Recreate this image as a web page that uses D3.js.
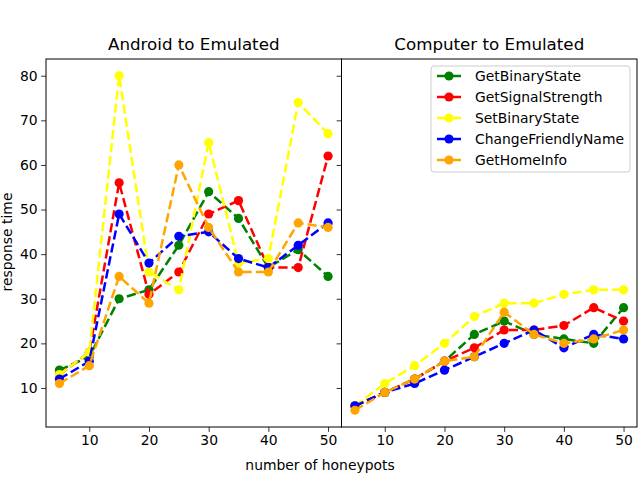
<!DOCTYPE html>
<html>
<head>
<meta charset="utf-8">
<script src="https://cdn.jsdelivr.net/npm/d3@7"></script>
<style>
  body { margin: 0; background: #fff; }
  text { font-family: "DejaVu Sans", sans-serif; }
</style>
</head>
<body>
<svg width="640" height="480"></svg>
<script>
// honeypot counts along x
const honeypots = [5, 10, 15, 20, 25, 30, 35, 40, 45, 50];
const seriesNames = ["GetBinaryState", "GetSignalStrength", "SetBinaryState", "ChangeFriendlyName", "GetHomeInfo"];
const seriesColors = ["green", "red", "yellow", "blue", "orange"];

// Android to Emulated
const androidGetBinaryState     = [14, 17, 30, 32, 42, 54, 48, 37, 41, 35];
const androidGetSignalStrength  = [13, 18, 56, 31, 36, 49, 52, 37, 37, 62];
const androidSetBinaryState     = [13, 18, 80, 36, 32, 65, 38, 39, 74, 67];
const androidChangeFriendlyName = [12, 16, 49, 38, 44, 45, 39, 37, 42, 47];
const androidGetHomeInfo        = [11, 15, 35, 29, 60, 46, 36, 36, 47, 46];

// Computer to Emulated
const computerGetBinaryState     = [6, 9, 12, 16, 22, 25, 22, 21, 20, 28];
const computerGetSignalStrength  = [6, 9, 12, 16, 19, 23, 23, 24, 28, 25];
const computerSetBinaryState     = [6, 11, 15, 20, 26, 29, 29, 31, 32, 32];
const computerChangeFriendlyName = [6, 9, 11, 14, 17, 20, 23, 19, 22, 21];
const computerGetHomeInfo        = [5, 9, 12, 16, 17, 27, 22, 20, 21, 23];

const yTicks = [10, 20, 30, 40, 50, 60, 70, 80];
const xTicks = [10, 20, 30, 40, 50];

const panels = [
  { title: "Android to Emulated", left: 46, series: [androidGetBinaryState, androidGetSignalStrength, androidSetBinaryState, androidChangeFriendlyName, androidGetHomeInfo] },
  { title: "Computer to Emulated", left: 341.5, series: [computerGetBinaryState, computerGetSignalStrength, computerSetBinaryState, computerChangeFriendlyName, computerGetHomeInfo] }
];

const svg = d3.select("svg");
const plotTop = 59, plotBottom = 427, panelWidth = 295.5;

// shared y scale, matplotlib-style 5% margins around 5..80
const y = d3.scaleLinear().domain([1.25, 83.75]).range([plotBottom, plotTop]);

panels.forEach((p, pi) => {
  const x = d3.scaleLinear().domain([2.75, 52.25]).range([p.left, p.left + panelWidth]);
  const g = svg.append("g");

  const xAxis = g.append("g")
      .attr("transform", `translate(0,${plotBottom})`)
      .call(d3.axisBottom(x).tickValues(xTicks).tickSize(4.9).tickPadding(3.5));
  const yAxis = g.append("g")
      .attr("transform", `translate(${p.left},0)`)
      .call(d3.axisLeft(y).tickValues(yTicks).tickSize(4.9).tickPadding(3.5)
        .tickFormat(pi === 0 ? d3.format("d") : () => ""));
  [xAxis, yAxis].forEach(a => {
    a.select(".domain").remove();
    a.selectAll("line").attr("stroke", "#000").attr("stroke-width", 0.8);
    a.selectAll("text").attr("font-size", 13.9).attr("fill", "#000")
      .style("font-family", "DejaVu Sans, sans-serif");
  });

  const line = d3.line()
      .x((d, i) => x(honeypots[i]))
      .y(d => y(d));

  p.series.forEach((vals, si) => {
    const col = seriesColors[si];
    g.append("path")
        .datum(vals)
        .attr("d", line)
        .attr("fill", "none")
        .attr("stroke", col)
        .attr("stroke-width", 2.5)
        .attr("stroke-dasharray", "9.25,4");
    g.selectAll(null)
        .data(vals)
        .join("circle")
        .attr("cx", (d, i) => x(honeypots[i]))
        .attr("cy", d => y(d))
        .attr("r", 4.6)
        .attr("fill", col);
  });

  g.append("rect")
      .attr("x", p.left).attr("y", plotTop)
      .attr("width", panelWidth).attr("height", plotBottom - plotTop)
      .attr("fill", "none").attr("stroke", "#000").attr("stroke-width", 1);

  g.append("text")
      .attr("x", p.left + panelWidth / 2)
      .attr("y", 50)
      .attr("text-anchor", "middle")
      .attr("font-size", 16.7)
      .text(p.title);
});

// axis labels
svg.append("text")
    .attr("x", 320).attr("y", 470)
    .attr("text-anchor", "middle")
    .attr("font-size", 13.9)
    .text("number of honeypots");
svg.append("text")
    .attr("transform", "translate(12,242) rotate(-90)")
    .attr("text-anchor", "middle")
    .attr("font-size", 13.9)
    .text("response time");

// legend
const legend = svg.append("g").attr("transform", "translate(431,66)");
legend.append("rect")
    .attr("width", 199).attr("height", 106)
    .attr("rx", 3)
    .attr("fill", "#fff").attr("fill-opacity", 0.8)
    .attr("stroke", "#ccc").attr("stroke-width", 1);
seriesNames.forEach((name, i) => {
  const row = legend.append("g").attr("transform", `translate(0,${10 + i * 21})`);
  row.append("line")
      .attr("x1", 6).attr("x2", 30)
      .attr("stroke", seriesColors[i]).attr("stroke-width", 2.5);
  row.append("circle").attr("cx", 18).attr("r", 4.6).attr("fill", seriesColors[i]);
  row.append("text")
      .attr("x", 44).attr("dy", "0.35em")
      .attr("font-size", 13.9)
      .text(name);
});
</script>
</body>
</html>
